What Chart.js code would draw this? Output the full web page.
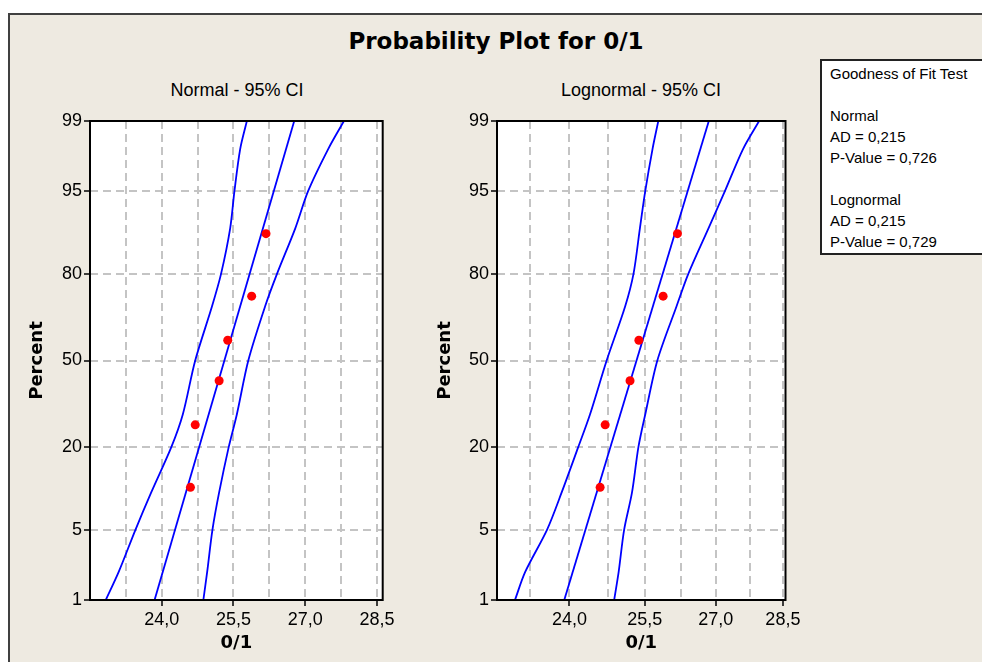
<!DOCTYPE html>
<html>
<head>
<meta charset="utf-8">
<title>Probability Plot for 0/1</title>
<script src="https://cdn.jsdelivr.net/npm/chart.js@4.4.1/dist/chart.umd.min.js"></script>
<style>
  body { margin: 0; width: 982px; height: 662px; overflow: hidden; position: relative; background: #fff; font-family: "Liberation Sans", Arial, sans-serif; }
  #frame { position: absolute; left: 8px; top: 13px; width: 1000px; height: 700px; background: #eeeae1; border: 2px solid #404040; }
  #title { position: absolute; left: 0; width: 992px; top: 28px; line-height: 28px; text-align: center; font: bold 23px "DejaVu Sans", sans-serif; color: #000; }
  .sub { position: absolute; top: 80px; line-height: 20px; width: 300px; text-align: center; font-size: 18px; color: #000; }
  canvas { position: absolute; }
  #gof { position: absolute; left: 820px; top: 59px; width: 200px; height: 190px; background: #fff; border: 2px solid #222; padding: 2px 0 0 8px; font-size: 15px; line-height: 21px; color: #000; }
</style>
</head>
<body>
<div id="frame"></div>
<div id="title">Probability Plot for 0/1</div>
<div class="sub" style="left:87px">Normal - 95% CI</div>
<div class="sub" style="left:491px">Lognormal - 95% CI</div>
<canvas id="chart_normal" width="400" height="592" style="left:14px;top:70px"></canvas>
<canvas id="chart_lognormal" width="400" height="592" style="left:420px;top:70px"></canvas>
<div id="gof">
  <div>Goodness of Fit Test</div>
  <div>&nbsp;</div>
  <div>Normal</div>
  <div>AD = 0,215</div>
  <div>P-Value = 0,726</div>
  <div>&nbsp;</div>
  <div>Lognormal</div>
  <div>AD = 0,215</div>
  <div>P-Value = 0,729</div>
</div>
<script>
// tick positions
const pctTicks = [1, 5, 20, 50, 80, 95, 99];
const xGridVals = [23.25, 24.0, 24.75, 25.5, 26.25, 27.0, 27.75, 28.5];
const xLabelVals = [24.0, 25.5, 27.0, 28.5];

// observed data (red points)
const sampleValues = [24.6, 24.7, 25.2, 25.38, 25.88, 26.18];
const samplePercents = [10.9, 26.6, 42.2, 57.8, 73.4, 89.1];

// fitted line + 95% CI curves
const fitPercents = [1, 99];
const bandPercents = [1, 2, 5, 10, 20, 30, 50, 70, 80, 90, 95, 98, 99];

const normalFit = [23.85, 26.77];
const normalLower = [22.83, 23.10, 23.45, 23.78, 24.20, 24.44, 24.70, 25.05, 25.24, 25.43, 25.52, 25.64, 25.78];
const normalUpper = [24.87, 24.95, 25.06, 25.20, 25.40, 25.57, 25.81, 26.16, 26.41, 26.79, 27.06, 27.48, 27.81];

const lognormalFit = [23.90, 26.85];
const lognormalLower = [22.97, 23.16, 23.57, 23.85, 24.17, 24.40, 24.73, 25.10, 25.27, 25.40, 25.51, 25.66, 25.78];
const lognormalUpper = [24.88, 24.97, 25.08, 25.24, 25.37, 25.51, 25.76, 26.16, 26.41, 26.84, 27.20, 27.60, 27.96];

// inverse normal cdf (Acklam) - the percent axis is linear in z
function probit(p) {
  const a = [-39.69683028665376, 220.9460984245205, -275.9285104469687, 138.3577518672690, -30.66479806614716, 2.506628277459239];
  const b = [-54.47609879822406, 161.5858368580409, -155.6989798598866, 66.80131188771972, -13.28068155288572];
  const c = [-0.007784894002430293, -0.3223964580411365, -2.400758277161838, -2.549732539343734, 4.374664141464968, 2.938163982698783];
  const d = [0.007784695709041462, 0.3224671290700398, 2.445134137142996, 3.754408661907416];
  const pl = 0.02425;
  let q, r;
  if (p < pl) {
    q = Math.sqrt(-2 * Math.log(p));
    return (((((c[0] * q + c[1]) * q + c[2]) * q + c[3]) * q + c[4]) * q + c[5]) / ((((d[0] * q + d[1]) * q + d[2]) * q + d[3]) * q + 1);
  }
  if (p > 1 - pl) {
    q = Math.sqrt(-2 * Math.log(1 - p));
    return -(((((c[0] * q + c[1]) * q + c[2]) * q + c[3]) * q + c[4]) * q + c[5]) / ((((d[0] * q + d[1]) * q + d[2]) * q + d[3]) * q + 1);
  }
  q = p - 0.5;
  r = q * q;
  return (((((a[0] * r + a[1]) * r + a[2]) * r + a[3]) * r + a[4]) * r + a[5]) * q / (((((b[0] * r + b[1]) * r + b[2]) * r + b[3]) * r + b[4]) * r + 1);
}

function toPoints(xs, ps) {
  return xs.map((x, i) => ({ x: x, y: probit(ps[i] / 100) }));
}

const framePlugin = {
  id: "frame",
  beforeDraw(chart) {
    const { ctx, chartArea: a } = chart;
    ctx.save();
    ctx.fillStyle = "#fff";
    ctx.fillRect(a.left, a.top, a.right - a.left, a.bottom - a.top);
    ctx.restore();
  },
  afterDraw(chart) {
    const { ctx, chartArea: a } = chart;
    ctx.save();
    ctx.strokeStyle = "#000";
    ctx.lineWidth = 2;
    ctx.strokeRect(a.left, a.top, a.right - a.left, a.bottom - a.top);
    ctx.restore();
  },
};

Chart.defaults.font.family = "'Liberation Sans', Arial, sans-serif";
Chart.defaults.font.size = 18;
Chart.defaults.color = "#000";

const titleFont = { family: "'DejaVu Sans', sans-serif", size: 18, weight: "bold" };

function makeProbChart(id, xType, xMin, xMax, fit, lower, upper, yWidth, rightPad, yTitlePad) {
  const blue = { showLine: true, borderColor: "#0000ff", borderWidth: 1.8, pointRadius: 0, fill: false };
  return new Chart(document.getElementById(id).getContext("2d"), {
    type: "scatter",
    data: {
      datasets: [
        {
          data: toPoints(sampleValues, samplePercents),
          showLine: false,
          pointRadius: 4.5,
          pointBackgroundColor: "#ff0000",
          pointBorderColor: "#ff0000",
          pointBorderWidth: 0,
        },
        Object.assign({ data: toPoints(fit, fitPercents) }, blue),
        Object.assign({ data: toPoints(lower, bandPercents), tension: 0.3 }, blue),
        Object.assign({ data: toPoints(upper, bandPercents), tension: 0.3 }, blue),
      ],
    },
    options: {
      responsive: false,
      animation: false,
      events: [],
      layout: { padding: { top: 51, right: rightPad, bottom: 0, left: 0 } },
      plugins: {
        legend: { display: false },
        tooltip: { enabled: false },
        title: { display: false },
      },
      scales: {
        x: {
          type: xType,
          min: xMin,
          max: xMax,
          bounds: "data",
          afterBuildTicks: (s) => { s.ticks = xGridVals.map((v) => ({ value: v })); },
          afterFit: (s) => { s.height = 62; },
          ticks: {
            autoSkip: false,
            maxRotation: 0,
            padding: 3,
            callback: (v) => (xLabelVals.includes(v) ? v.toFixed(1).replace(".", ",") : ""),
          },
          grid: {
            color: "#c4c4c4",
            lineWidth: 2,
            tickLength: 6,
            tickWidth: 1.5,
            tickColor: (c) => (c.tick && xLabelVals.includes(c.tick.value) ? "#000" : "rgba(0,0,0,0)"),
          },
          border: { display: false, dash: [8, 5] },
          title: { display: true, text: "0/1", font: titleFont, padding: { top: 0, bottom: 8 } },
        },
        y: {
          type: "linear",
          min: probit(0.01),
          max: probit(0.99),
          afterBuildTicks: (s) => { s.ticks = pctTicks.map((p) => ({ value: probit(p / 100) })); },
          afterFit: (s) => { s.width = yWidth; },
          ticks: {
            autoSkip: false,
            padding: 2,
            callback: (v, i) => pctTicks[i],
          },
          grid: {
            color: "#c4c4c4",
            lineWidth: 2,
            tickLength: 6,
            tickWidth: 1.5,
            tickColor: "#000",
          },
          border: { display: false, dash: [8, 5] },
          title: { display: true, text: "Percent", font: titleFont, padding: { top: yTitlePad, bottom: 0 } },
        },
      },
    },
    plugins: [framePlugin],
  });
}

makeProbChart("chart_normal", "linear", 22.5, 28.62, normalFit, normalLower, normalUpper, 76, 31.3, 12.7);
makeProbChart("chart_lognormal", "logarithmic", 22.64, 28.56, lognormalFit, lognormalLower, lognormalUpper, 77, 34.5, 14.2);
</script>
</body>
</html>
